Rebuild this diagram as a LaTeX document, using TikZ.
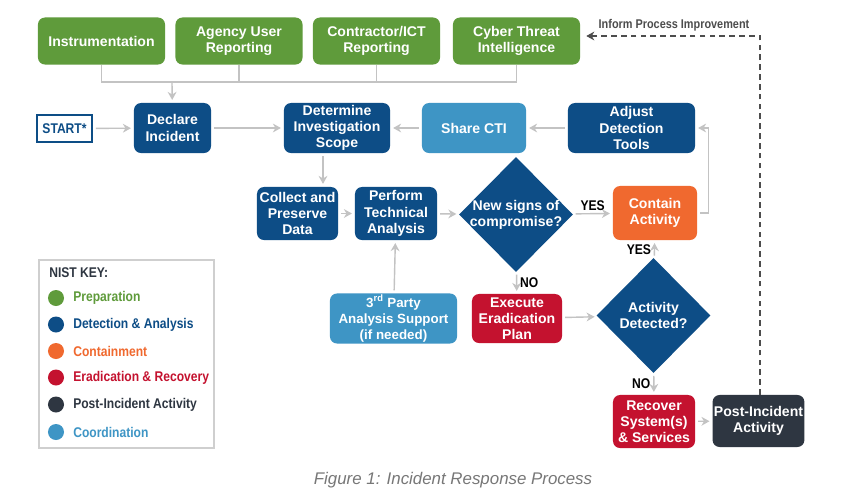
\documentclass[tikz,border=0pt]{standalone}
\usepackage{fontspec}
\setmainfont{Liberation Sans}
\newfontfamily\narrowfont{Liberation Sans}[FakeStretch=0.86]
\usetikzlibrary{arrows.meta,positioning,shapes.geometric,calc}
\definecolor{prep}{HTML}{5F9B3B}
\definecolor{det}{HTML}{0D4D86}
\definecolor{cont}{HTML}{F0692F}
\definecolor{erad}{HTML}{C4122F}
\definecolor{post}{HTML}{2E3641}
\definecolor{coord}{HTML}{3E95C5}
\definecolor{lnk}{HTML}{C3C3C3}
\definecolor{dash}{HTML}{4D4D4D}
\definecolor{capgray}{HTML}{777777}

\begin{document}
\begin{tikzpicture}[x=0.025cm,y=-0.025cm,
    blk/.style={rectangle,rounded corners=5pt,minimum height=1.25cm,font=\fontsize{10}{11.5}\selectfont\bfseries,text=white,align=center,inner sep=1pt},
    dia/.style={diamond,fill=det,minimum width=2.85cm,minimum height=2.875cm,inner sep=-3pt,font=\fontsize{10}{11.5}\selectfont\bfseries,text=white,align=center},
    startbox/.style={rectangle,draw=det,line width=1.5pt,fill=white,text=det,minimum width=1.375cm,minimum height=0.675cm,font=\narrowfont\fontsize{10}{12}\selectfont\bfseries},
    arr/.style={-{Stealth[length=2mm,width=2.2mm]},line width=1pt,draw=lnk,shorten >=2pt,shorten <=2pt},
    ln/.style={line width=1pt,draw=lnk},
    darr/.style={-{Stealth[length=2mm,width=2.2mm]},line width=0.8pt,dash pattern=on 4pt off 3pt,draw=dash},
    lbl/.style={font=\narrowfont\fontsize{10}{12}\selectfont\bfseries,inner sep=2pt},
    key/.style={anchor=west,font=\narrowfont\fontsize{10}{12}\selectfont\bfseries,inner sep=0pt},
    dot/.style={circle,minimum size=0.4cm,inner sep=0pt},
]
\fill[white] (0,0) rectangle (849,494);
\useasboundingbox (0,0) rectangle (849,494);

% Row 1: Inputs
\node[blk,fill=prep,minimum width=3.175cm,minimum height=1.175cm] (inst) at (101.5,41) {Instrumentation};
\node[blk,fill=prep,minimum width=3.175cm,minimum height=1.175cm] (agency) at (239,41) {Agency User\\Reporting};
\node[blk,fill=prep,minimum width=3.175cm,minimum height=1.175cm] (contr) at (376.5,41) {Contractor/ICT\\Reporting};
\node[blk,fill=prep,minimum width=3.175cm,minimum height=1.175cm] (cti) at (516.5,41) {Cyber Threat\\Intelligence};
\node[font=\narrowfont\fontsize{9}{11}\selectfont\bfseries,text=dash] (ipi) at (674,25) {Inform Process Improvement};

% Row 2: Declaration and scope
\node[startbox] (start) at (64.5,128.5) {START*};
\node[blk,fill=det,minimum width=1.925cm] (declare) at (172.5,128) {Declare\\Incident};
\node[blk,fill=det,minimum width=2.65cm] (scope) at (337,128) {Determine\\Investigation\\Scope};
\node[blk,fill=coord,minimum width=2.6cm] (share) at (474,128) {Share CTI};
\node[blk,fill=det,minimum width=3.175cm] (adjust) at (631.5,128) {Adjust\\Detection\\Tools};

% Row 3: Analysis
\node[blk,fill=det,minimum width=2.025cm,minimum height=1.325cm] (collect) at (297.5,213.5) {Collect and\\Preserve\\Data};
\node[blk,fill=det,minimum width=2.05cm,minimum height=1.325cm] (perform) at (396,213.5) {Perform\\Technical\\Analysis};
\node[dia] (newsigns) at (516,214.5) {New signs of\\compromise?};
\node[blk,fill=cont,minimum width=2.1cm,minimum height=1.35cm] (contain) at (655,213) {Contain\\Activity};

% Row 4: Support and eradication
\node[blk,fill=coord,minimum width=3.175cm,minimum height=1.225cm,font=\fontsize{9.5}{11.5}\selectfont\bfseries] (party) at (393.5,318.5) {3\textsuperscript{rd} Party\\Analysis Support\\(if needed)};
\node[blk,fill=erad,minimum width=2.25cm,minimum height=1.225cm] (execute) at (517,318.5) {Execute\\Eradication\\Plan};
\node[dia] (detected) at (653.5,315.5) {Activity\\Detected?};

% Row 5: Recovery
\node[blk,fill=erad,minimum width=2.05cm,minimum height=1.325cm] (recover) at (654,421.5) {Recover\\System(s)\\\& Services};
\node[blk,fill=post,minimum width=2.225cm,minimum height=1.3cm] (post) at (758.5,421) {Post-Incident\\Activity};

% Key
\node[draw=lnk!80,line width=0.8pt,minimum width=4.375cm,minimum height=4.7cm] (keybox) at (126.5,354) {};
\node[key,text=post] (keyhd) at (49,273) {NIST KEY:};
\node[dot,fill=prep] (dprep) at (56,298) {};
\node[key,text=prep] (kprep) at (73,298) {Preparation};
\node[dot,fill=det] (ddet) at (56,324.5) {};
\node[key,text=det] (kdet) at (73,324.5) {Detection \& Analysis};
\node[dot,fill=cont] (dcont) at (56,351) {};
\node[key,text=cont] (kcont) at (73,351) {Containment};
\node[dot,fill=erad] (derad) at (56,377.5) {};
\node[key,text=erad] (kerad) at (73,377.5) {Eradication \& Recovery};
\node[dot,fill=post] (dpost) at (56,404.5) {};
\node[key,text=post] (kpost) at (73,404.5) {Post-Incident Activity};
\node[dot,fill=coord] (dcoord) at (56,432) {};
\node[key,text=coord] (kcoord) at (73,432) {Coordination};

% Caption
\node[font=\fontsize{12}{14}\selectfont\itshape,text=capgray] (caption) at (453,480) {Figure 1: Incident Response Process};

% Arrows
\coordinate (bus) at (172,82);
\draw[ln] (inst.south) |- (cti.south |- bus) -- (cti.south);
\draw[ln] (agency.south) -- (agency.south |- bus);
\draw[ln] (contr.south) -- (contr.south |- bus);
\draw[arr,shorten <=0pt] (bus) -- (declare);
\draw[arr] (start) -- (declare);
\draw[arr] (declare) -- (scope);
\draw[arr] (share) -- (scope);
\draw[arr] (adjust) -- (share);
\draw[arr] ([xshift=-0.35cm]scope.south) -- ([xshift=-0.35cm]scope.south |- collect.north);
\draw[arr] (collect) -- (perform);
\draw[arr] (perform) -- (newsigns);
\draw[arr] (newsigns) -- node[lbl,above]{YES} (contain);
\draw[arr] (newsigns) -- node[lbl,right]{NO} (execute);
\draw[arr] (contain.east) -- ++(11,0) |- (adjust.east);
\draw[arr] (party) -- (perform);
\draw[arr] (execute) -- (detected);
\draw[arr] (detected) -- node[lbl,left]{YES} (contain);
\draw[arr] (detected) -- node[lbl,left]{NO} (recover);
\draw[arr] (recover) -- (post);
\coordinate (loop) at (760,36);
\draw[darr,shorten >=1.5mm] (post.north -| loop) -- (loop) -- (loop -| cti.east);
\end{tikzpicture}
\end{document}
